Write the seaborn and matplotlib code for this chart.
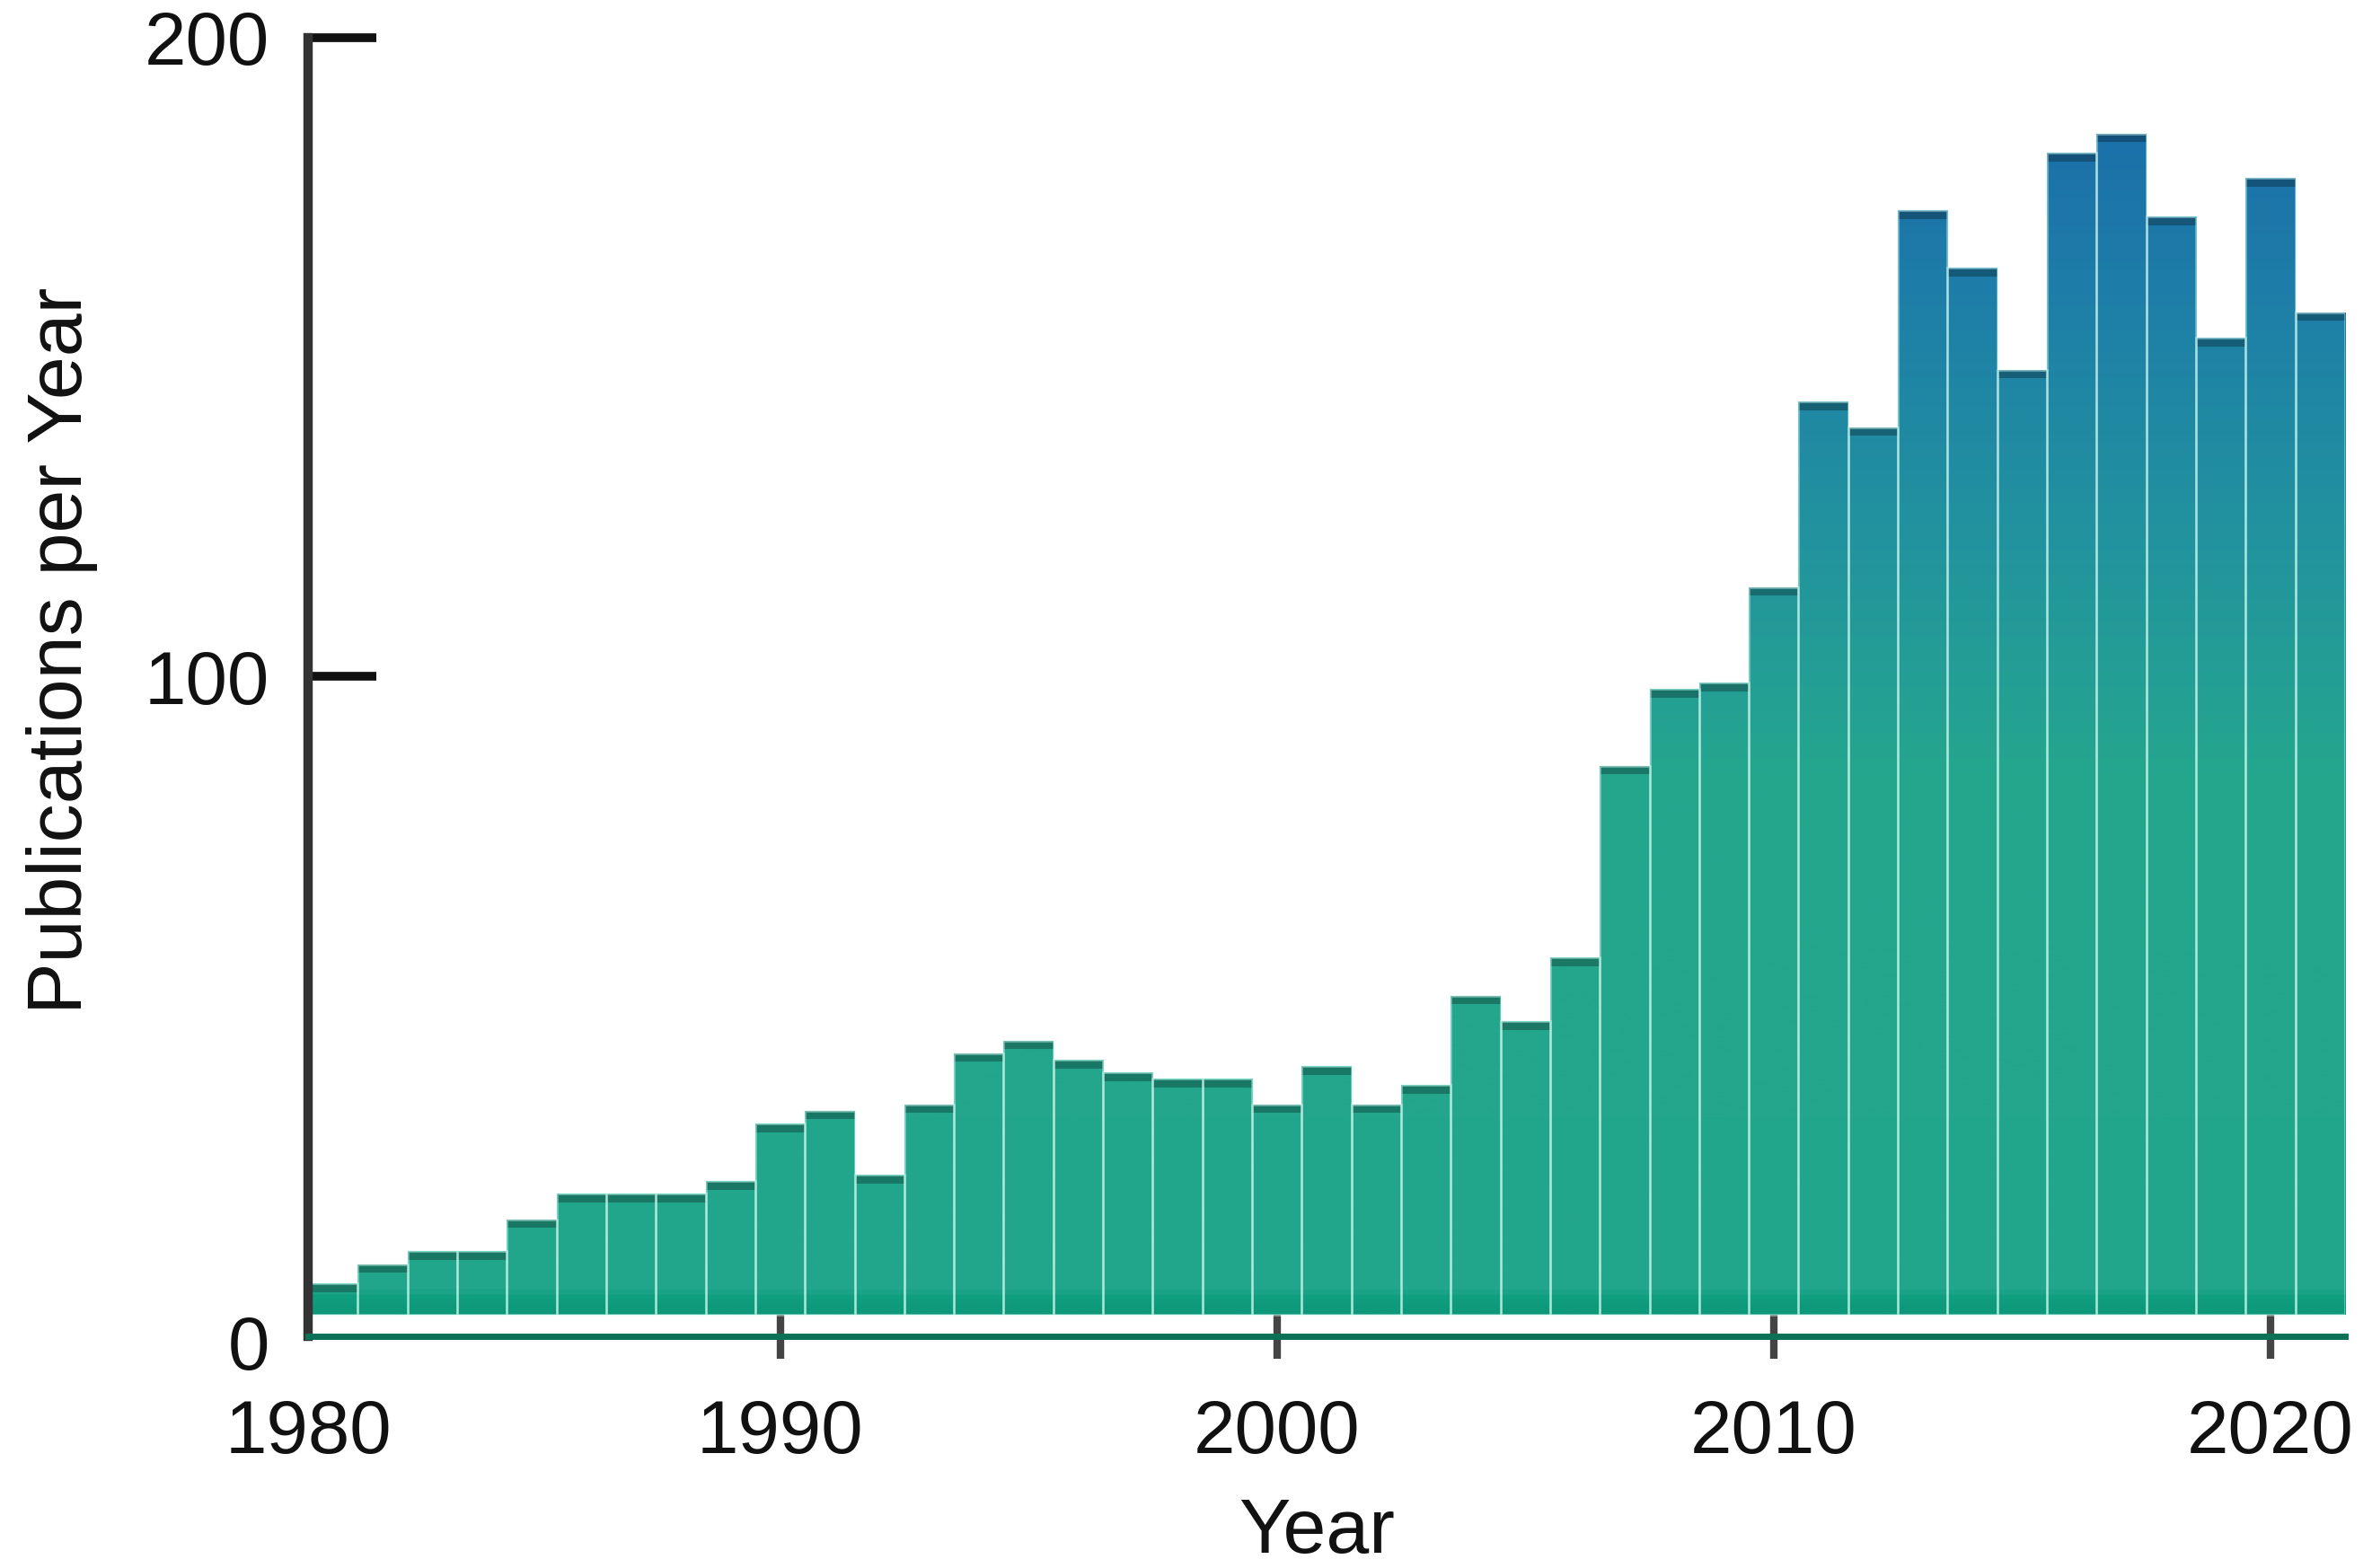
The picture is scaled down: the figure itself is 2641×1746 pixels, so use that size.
import numpy as np
import pandas as pd
import matplotlib
matplotlib.use("Agg")
import matplotlib.pyplot as plt
import seaborn as sns
from matplotlib.colors import LinearSegmentedColormap, Normalize, to_rgb

# ---------------- data ----------------
years = list(range(1981, 2022))
publications = [5, 8, 10, 10, 15, 19, 19, 19, 21, 30,
                32, 22, 33, 41, 43, 40, 38, 37, 37, 33,
                39, 33, 36, 50, 46, 56, 86, 98, 99, 114,
                143, 139, 173, 164, 148, 182, 185, 172, 153, 178,
                157]
x_tick_years = [1990, 2000, 2010, 2020]
x_origin_label = "1980"
y_ticks = [0, 100, 200]

# ---------------- style ----------------
sns.set_theme(style="white")
plt.rcParams['font.family'] = ['Liberation Sans', 'DejaVu Sans']

fig = plt.figure(figsize=(26.41, 17.46), dpi=100)
fig.patch.set_facecolor("white")
ax = fig.add_axes([0.1299, 0.1478, 0.8587, 0.8282])

df = pd.DataFrame({"Year": years, "Publications": publications})
sns.barplot(data=df, x="Year", y="Publications", native_scale=True, width=1.0,
            color="#24a88c", edgecolor=(0.85, 1, 0.97, 0.5), linewidth=1.8,
            errorbar=None, ax=ax)

ymin, ymax = -3.3, 200
xmin, xmax = years[0] - 0.5, years[-1] + 0.5

# vertical gradient fill (green at bottom -> blue at top)
knots = [(-3.3, "#0e987a"), (0.0, "#0e987a"), (2.6, "#109f7f"), (3.4, "#22a68b"),
         (85, "#25a68e"), (120, "#22949e"), (160, "#1e7ea8"), (200, "#1a68aa")]
cmap = LinearSegmentedColormap.from_list(
    "pubgrad", [((v - ymin) / (ymax - ymin), c) for v, c in knots])
norm = Normalize(ymin, ymax)
grad = np.linspace(ymin, ymax, 1200).reshape(-1, 1)

for p in ax.patches:
    img = ax.imshow(grad, extent=(xmin, xmax, ymin, ymax), origin="lower",
                    cmap=cmap, norm=norm, aspect="auto", interpolation="bilinear",
                    zorder=1)
    img.set_clip_path(p)
    p.set_facecolor("none")
    p.set_zorder(2)
    h = p.get_height()
    dark = tuple(np.array(to_rgb(cmap(norm(h)))) * 0.72)
    ln = ax.hlines(h - 0.65, p.get_x(), p.get_x() + p.get_width(),
                   color=dark, linewidth=6.5, zorder=1.5)
    ln.set_clip_path(p)

ax.set_xlim(xmin, xmax)
ax.set_ylim(ymin, ymax)

# ---------------- axes ----------------
sns.despine(ax=ax)
ax.spines["left"].set_color("#333333")
ax.spines["left"].set_linewidth(7.5)
ax.spines["bottom"].set_color("#0b7157")
ax.spines["bottom"].set_linewidth(5)

ax.set_yticks(y_ticks, labels=[str(t) for t in y_ticks])
ax.set_xticks([xmin] + x_tick_years,
              labels=[x_origin_label] + [str(y) for y in x_tick_years])

ax.tick_params(axis="y", left=True, direction="in", length=55, width=7,
               color="#111111", pad=31, labelsize=60, labelcolor="#111111")
ax.tick_params(axis="x", bottom=True, direction="inout", length=36, width=6,
               color="#444444", pad=32, labelsize=60, labelcolor="#111111")

ax.yaxis.get_major_ticks()[0].tick1line.set_visible(False)
ax.get_yticklabels()[0].set_va("top")
ax.xaxis.get_major_ticks()[0].tick1line.set_visible(False)

ax.set_ylabel("Publications per Year", fontsize=62, color="#111111")
ax.set_xlabel("Year", fontsize=62, color="#111111")
ax.yaxis.set_label_coords(-0.103, 0.528)
ax.xaxis.set_label_coords(0.495, -0.124)
ax.grid(False)

fig.savefig("out.png", dpi=100, facecolor="white")
